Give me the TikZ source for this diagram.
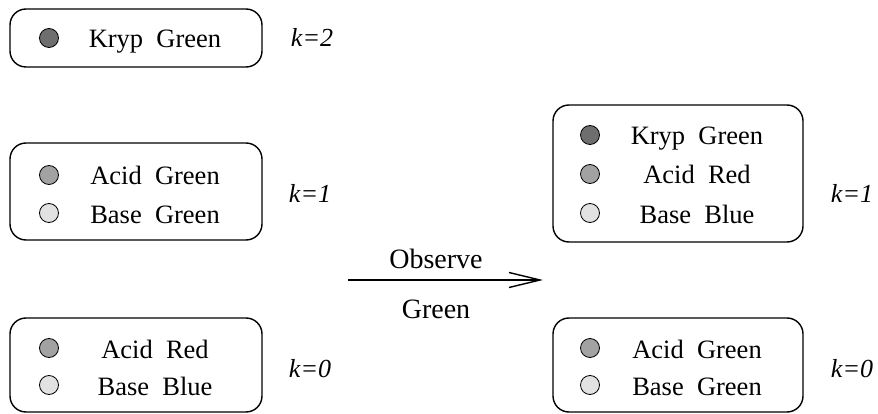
\documentclass[tikz,border=0pt]{standalone}
\usepackage{fontspec}
\setmainfont{Liberation Serif}
\usetikzlibrary{arrows.meta}

\definecolor{kryp}{HTML}{6E6E6E}
\definecolor{acid}{HTML}{A2A2A2}
\definecolor{base}{HTML}{E2E2E2}

\tikzset{
  urn/.style={draw,line width=1.4pt,rounded corners=16pt},
  ball/.style={draw,circle,line width=0.8pt,inner sep=0pt,minimum size=19pt},
  lbl/.style={font=\fontsize{26.5}{30}\selectfont,inner sep=0pt,anchor=base},
  klbl/.style={font=\fontsize{26}{30}\selectfont\itshape,inner sep=0pt,anchor=base}
}

\begin{document}
\begin{tikzpicture}[x=1pt,y=-1pt]
\useasboundingbox (0,0) rectangle (878,414);
% before: three urns
\draw[urn] (10,9) rectangle (262,67);
\node[ball,fill=kryp] (K2a) at (49,38) {};
\node[lbl] (K2t) at (155,48) {Kryp~~Green};
\node[klbl] (K2k) at (312,47) {k=2};

\draw[urn] (10,143) rectangle (262,240);
\node[ball,fill=acid] (K1a) at (49,175) {};
\node[ball,fill=base] (K1b) at (49,213) {};
\node[lbl] (K1t) at (155,185) {Acid~~Green};
\node[lbl] (K1u) at (155,223) {Base~~Green};
\node[klbl] (K1k) at (310,203) {k=1};

\draw[urn] (10,318) rectangle (262,412);
\node[ball,fill=acid] (K0a) at (49,348) {};
\node[ball,fill=base] (K0b) at (49,385) {};
\node[lbl] (K0t) at (155,358) {Acid~~Red};
\node[lbl] (K0u) at (155,395) {Base~~Blue};
\node[klbl] (K0k) at (310,377) {k=0};

% observation
\coordinate (obsL) at (348,280);
\coordinate (obsR) at (543,280);
\draw[line width=1.4pt,-{Straight Barb[length=31pt,width=15pt,line width=1.4pt]}] (obsL) -- (obsR);
\node[lbl,font=\fontsize{28}{32}\selectfont] (obs1) at (436,268) {Observe};
\node[lbl,font=\fontsize{28}{32}\selectfont] (obs2) at (436,318) {Green};

% after: two urns
\draw[urn] (553,105) rectangle (803,242);
\node[ball,fill=kryp] (N1a) at (590,135) {};
\node[ball,fill=acid] (N1b) at (590,174) {};
\node[ball,fill=base] (N1c) at (590,213) {};
\node[lbl] (N1t) at (697,145) {Kryp~~Green};
\node[lbl] (N1u) at (697,184) {Acid~~Red};
\node[lbl] (N1v) at (697,223) {Base~~Blue};
\node[klbl] (N1k) at (852,203) {k=1};

\draw[urn] (553,318) rectangle (803,412);
\node[ball,fill=acid] (N0a) at (590,348) {};
\node[ball,fill=base] (N0b) at (590,385) {};
\node[lbl] (N0t) at (697,358) {Acid~~Green};
\node[lbl] (N0u) at (697,395) {Base~~Green};
\node[klbl] (N0k) at (852,377) {k=0};
\end{tikzpicture}
\end{document}
